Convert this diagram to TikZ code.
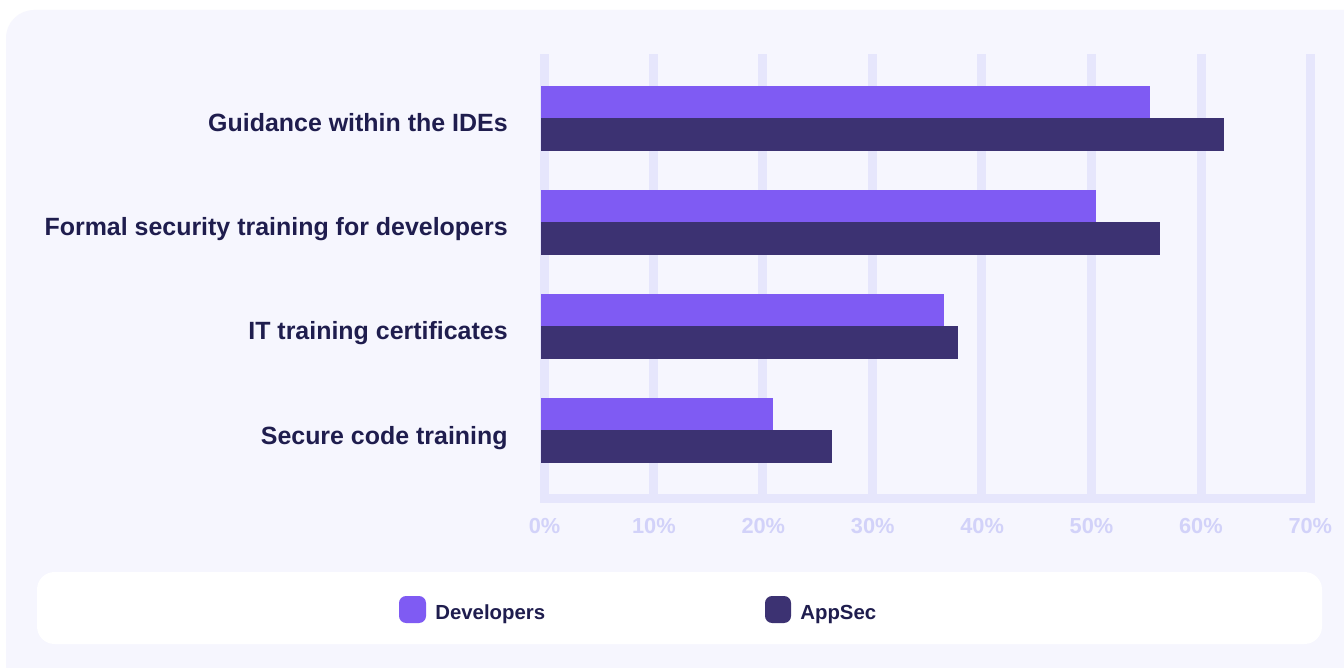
\documentclass[tikz,border=0pt]{standalone}
\usepackage{fontspec}
\setmainfont{Liberation Sans}
\definecolor{panelbg}{HTML}{F6F6FE}
\definecolor{gridc}{HTML}{E6E6FC}
\definecolor{ticktxt}{HTML}{D2D2F9}
\definecolor{inkc}{HTML}{1F1D4E}
\definecolor{devc}{HTML}{7F5BF3}
\definecolor{secc}{HTML}{3C3272}

\begin{document}
\begin{tikzpicture}[x=0.02cm,y=-0.02cm,
    cat/.style={anchor=base east,text=inkc,font=\fontsize{14.2}{16}\selectfont\bfseries,inner sep=0},
    pct/.style={anchor=base,text=ticktxt,font=\fontsize{12.4}{14}\selectfont\bfseries,inner sep=0},
    key/.style={anchor=base west,text=inkc,font=\fontsize{11.6}{13}\selectfont\bfseries,inner sep=0},
    gridbar/.style={fill=gridc},
    devbar/.style={fill=devc},
    secbar/.style={fill=secc}]
      \useasboundingbox (0,0) rectangle (1344,668);
      \clip (0,0) rectangle (1344,668);
      \fill[white] (0,0) rectangle (1344,668);
      \fill[panelbg,rounded corners=16] (6,10) rectangle (1380,700);
      % grid
      \fill[gridbar] (540,54) rectangle (549,494);
      \fill[gridbar] (649,54) rectangle (658,494);
      \fill[gridbar] (758,54) rectangle (767,494);
      \fill[gridbar] (868,54) rectangle (877,494);
      \fill[gridbar] (977,54) rectangle (986,494);
      \fill[gridbar] (1087,54) rectangle (1096,494);
      \fill[gridbar] (1197,54) rectangle (1206,494);
      \fill[gridbar] (1306,54) rectangle (1315,494);
      \fill[gridbar] (540,494) rectangle (1315,503);
      \draw
        (544.5,533) node[pct] (p0){0\%}
        (653.9,533) node[pct] (p10){10\%}
        (763.3,533) node[pct] (p20){20\%}
        (872.7,533) node[pct] (p30){30\%}
        (982.1,533) node[pct] (p40){40\%}
        (1091.5,533) node[pct] (p50){50\%}
        (1200.9,533) node[pct] (p60){60\%}
        (1310.3,533) node[pct] (p70){70\%};
      % bars
      \fill[devbar] (541,86) rectangle (1150,118);
      \fill[secbar] (541,118) rectangle (1224,151);
      \fill[devbar] (541,190) rectangle (1096,222);
      \fill[secbar] (541,222) rectangle (1160,255);
      \fill[devbar] (541,294) rectangle (944,326);
      \fill[secbar] (541,326) rectangle (958,359);
      \fill[devbar] (541,398) rectangle (773,430);
      \fill[secbar] (541,430) rectangle (832,463);
      \draw
        (508,132) node[cat] (ide){Guidance within the IDEs}
        (508,236) node[cat] (formal){Formal security training for developers}
        (508,340) node[cat] (cert){IT training certificates}
        (508,444) node[cat] (code){Secure code training};
      % legend
      \fill[white,rounded corners=10] (37,572) rectangle (1322,644);
      \fill[devbar,rounded corners=4] (399,596) rectangle (426,623);
      \fill[secbar,rounded corners=4] (765,596) rectangle (791,623);
      \draw
        (435,619) node[key] (dev){Developers}
        (800,619) node[key] (sec){AppSec};
    \end{tikzpicture}
\end{document}
